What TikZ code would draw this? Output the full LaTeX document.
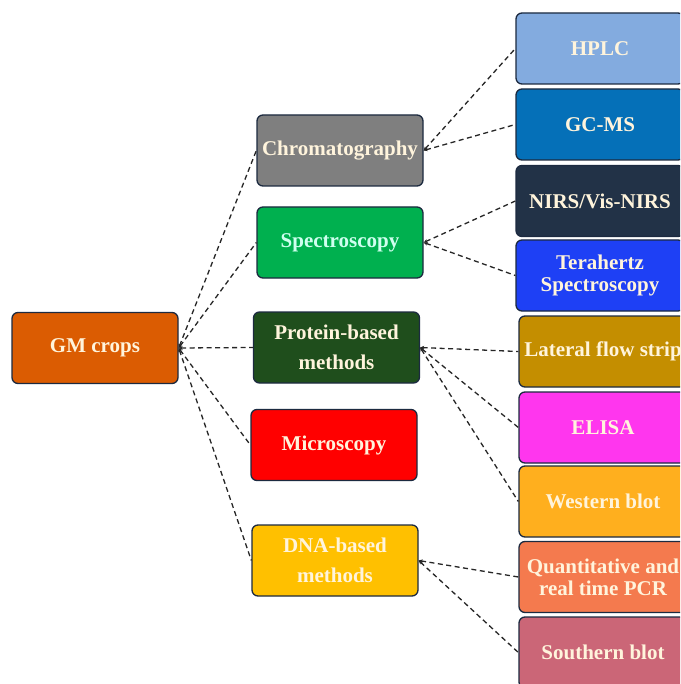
\documentclass[tikz,border=0pt]{standalone}
\usepackage{fontspec}
\setmainfont{Liberation Serif}
\usetikzlibrary{arrows.meta}
\definecolor{edge}{HTML}{1C2A40}
\definecolor{cream}{HTML}{FFF4DC}
\definecolor{mint}{HTML}{CFFFEF}
\definecolor{cGM}{HTML}{DB5C02}
\definecolor{cChrom}{HTML}{7F7F7F}
\definecolor{cSpec}{HTML}{00B04F}
\definecolor{cProt}{HTML}{1F4E1C}
\definecolor{cMicro}{HTML}{FF0000}
\definecolor{cDNA}{HTML}{FFC000}
\definecolor{cHPLC}{HTML}{83ABDF}
\definecolor{cGCMS}{HTML}{0570B8}
\definecolor{cNIRS}{HTML}{223247}
\definecolor{cTera}{HTML}{1E40F5}
\definecolor{cLat}{HTML}{C48E00}
\definecolor{cELISA}{HTML}{FF36EE}
\definecolor{cWest}{HTML}{FFAF1E}
\definecolor{cQuant}{HTML}{F47A4E}
\definecolor{cSouth}{HTML}{CB6677}
\tikzset{
  x=1pt,y=-1pt,
  box/.style={draw=edge, line width=1.3pt, rounded corners=6pt,
    minimum width=166pt, minimum height=71pt, align=center,
    text=cream, font=\bfseries\fontsize{21}{22}\selectfont, inner sep=1pt},
  loose/.style={font=\bfseries\fontsize{21}{30}\selectfont},
  conn/.style={draw=black!85, dash pattern=on 5pt off 3.5pt, line width=1.3pt},
  tip/.style={{Stealth[length=4pt,width=3.5pt]}-}
}
\begin{document}
\begin{tikzpicture}
\useasboundingbox (0,0) rectangle (680,684);
\clip (0,0) rectangle (680,684);
\fill[white] (0,0) rectangle (680,684);
% left
\node[box, fill=cGM] (gm) at (95,348) {GM crops};
% middle
\node[box, fill=cChrom] (chrom) at (340,150.5) {Chromatography};
\node[box, fill=cSpec, text=mint] (spec) at (340,242.5) {Spectroscopy};
\node[box, fill=cProt, loose] (prot) at (336.5,347.5) {Protein-based\\methods};
\node[box, fill=cMicro] (micro) at (334,445) {Microscopy};
\node[box, fill=cDNA, loose] (dna) at (335,560.5) {DNA-based\\methods};
% right
\node[box, fill=cHPLC, minimum width=168pt] (hplc) at (600,48.5) {HPLC};
\node[box, fill=cGCMS, minimum width=168pt] (gcms) at (600,124.5) {GC-MS};
\node[box, fill=cNIRS, minimum width=168pt] (nirs) at (600,201) {NIRS/Vis-NIRS};
\node[box, fill=cTera, minimum width=168pt] (tera) at (600,275.5) {Terahertz\\Spectroscopy};
\node[box, fill=cLat, minimum width=168pt] (lat) at (603,351.5) {Lateral flow strip};
\node[box, fill=cELISA, minimum width=168pt] (elisa) at (603,427.5) {ELISA};
\node[box, fill=cWest, minimum width=168pt] (west) at (603,501.5) {Western blot};
\node[box, fill=cQuant, minimum width=168pt] (quant) at (603,577) {Quantitative and\\real time PCR};
\node[box, fill=cSouth, minimum width=168pt] (south) at (603,652.5) {Southern blot};
% connectors from root
\foreach \t in {chrom,spec,prot,micro,dna}
  \draw[conn,tip] (gm.east) -- (\t.west);
% connectors to leaves
\draw[conn,tip] (chrom.east) -- (hplc.west);
\draw[conn,tip] (chrom.east) -- (gcms.west);
\draw[conn,tip] (spec.east) -- (nirs.west);
\draw[conn,tip] (spec.east) -- (tera.west);
\draw[conn,tip] (prot.east) -- (lat.west);
\draw[conn,tip] (prot.east) -- (elisa.west);
\draw[conn,tip] (prot.east) -- (west.west);
\draw[conn,tip] (dna.east) -- (quant.west);
\draw[conn,tip] (dna.east) -- (south.west);
\end{tikzpicture}
\end{document}
